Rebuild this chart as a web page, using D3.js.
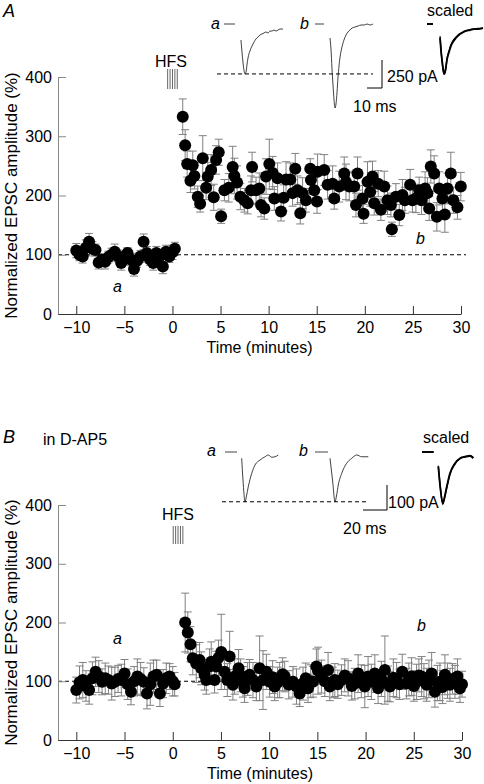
<!DOCTYPE html>
<html><head><meta charset="utf-8">
<script src="https://cdn.jsdelivr.net/npm/d3@7"></script>
<style>body{margin:0;background:#fff}svg{display:block}text{font-family:"Liberation Sans",Arial,sans-serif;fill:#000}</style>
</head><body><svg id="c" width="484" height="784"></svg>
<script>
// ---------- data ----------
const xTicks=[-10,-5,0,5,10,15,20,25,30];
const yTicks=[0,100,200,300,400];

const tA=[-10,-9.67,-9.33,-9,-8.67,-8.33,-8,-7.67,-7.33,-7,-6.67,-6.33,-6,-5.67,-5.33,-5,-4.67,-4.33,-4,-3.67,-3.33,-3,-2.67,-2.33,-2,-1.67,-1.33,-1,-0.67,-0.33,0,0.25,
1.07,1.32,1.53,1.87,2.11,2.28,2.63,2.88,3.15,3.50,3.67,4.02,4.29,4.54,4.81,5.06,5.40,5.85,6.26,6.44,6.72,7.06,7.48,7.82,8.17,8.28,8.69,9.03,9.21,9.55,9.73,10.07,10.42,10.59,10.93,11.29,11.56,11.81,12.25,12.49,12.77,13.01,13.29,13.53,13.88,14.33,14.40,14.74,15.03,15.09,15.78,16.13,16.65,16.82,17.34,17.86,18.04,18.38,18.90,19.08,19.24,19.76,19.87,20.28,20.56,20.80,20.98,21.39,21.67,22.02,22.36,22.71,22.81,23.23,23.58,23.91,24.16,24.71,24.95,25.31,25.65,25.89,26.27,26.51,26.69,26.86,27.21,27.49,27.73,28.07,28.32,28.59,28.94,29.21,29.63,29.98];
const vA=[107,100,97,112,122,110,108,87,92,88,96,100,105,98,86,95,103,92,76,90,97,122,103,92,86,103,98,80,105,97,104,110,
333,285,253,225,251,233,198,186,263,213,232,243,197,260,273,165,209,213,248,233,222,198,192,187,209,248,209,212,184,178,232,253,238,195,229,173,196,227,227,204,245,209,170,204,192,245,226,209,190,240,243,218,220,195,215,237,223,215,215,184,237,195,169,223,206,232,187,220,176,215,192,184,143,198,167,201,192,218,192,195,209,192,212,204,178,249,237,164,212,195,168,212,237,192,180,215];
const eA=[12,10,11,13,14,12,10,11,9,12,10,11,13,10,12,11,9,10,12,11,10,13,11,10,12,11,10,12,11,10,12,11,
30,26,22,20,24,22,18,14,38,20,24,26,22,24,22,12,18,24,35,30,28,22,20,18,24,25,22,26,20,18,30,42,28,20,26,16,22,30,28,22,26,24,18,26,20,17,24,22,20,30,26,24,30,18,26,28,30,24,26,20,28,22,16,34,24,26,20,22,18,26,24,20,12,22,18,26,22,26,20,24,22,24,28,26,20,28,30,24,28,22,30,26,36,22,20,24];

const tB=[-10,-9.67,-9.33,-9,-8.67,-8.33,-8,-7.67,-7.33,-7,-6.67,-6.33,-6,-5.67,-5.33,-5,-4.67,-4.33,-4,-3.67,-3.33,-3,-2.67,-2.33,-2,-1.67,-1.33,-1,-0.67,-0.33,0,0.2,
1.29,1.56,1.84,2.08,2.44,2.78,2.96,3.30,3.48,3.82,3.99,4.34,4.51,4.75,5.03,5.38,5.66,5.90,6.24,6.42,6.83,7.04,7.28,7.45,7.77,7.97,8.32,8.67,9.01,9.36,9.71,10.05,10.36,10.57,10.88,11.09,11.40,11.61,12.03,12.47,12.83,13.17,13.51,13.79,14.03,14.31,14.55,14.90,15.07,15.42,15.77,16.11,16.29,16.60,16.81,17.12,17.50,17.84,18.19,18.57,18.88,19.23,19.56,19.92,20.26,20.60,20.96,21.30,21.64,22.00,22.31,22.52,22.88,23.22,23.51,23.80,24.25,24.49,24.77,25.01,25.29,25.53,25.81,26.05,26.33,26.57,26.85,27.19,27.45,27.71,27.97,28.23,28.49,28.75,29.01,29.27,29.53,29.79,30.00];
const vB=[85,98,102,92,85,105,116,108,99,105,102,96,99,104,102,113,95,82,100,108,104,99,79,95,108,111,79,96,105,108,100,95,
200,183,163,139,130,136,122,111,102,125,133,102,125,140,150,116,102,142,94,108,122,110,99,88,104,111,102,91,122,102,116,99,107,91,98,102,112,108,94,99,91,79,96,105,88,100,99,125,118,108,100,119,91,98,102,95,102,110,105,92,96,113,100,91,108,99,113,88,104,119,96,91,106,102,95,116,96,103,108,92,99,110,108,100,94,104,113,82,97,99,90,111,101,94,104,99,108,88,95];
const eB=[22,28,30,26,24,28,25,27,22,26,24,28,25,23,27,24,26,22,25,30,28,24,26,36,28,25,22,24,26,22,25,20,
50,35,30,28,32,30,28,26,24,30,34,22,26,30,64,30,28,43,26,30,32,28,26,24,28,26,30,24,55,50,30,26,28,24,26,30,28,26,24,26,30,22,28,26,24,28,26,30,40,28,26,30,24,26,28,24,26,28,30,24,26,32,28,36,34,30,32,26,30,58,30,26,32,30,26,30,26,28,32,26,30,28,34,30,28,32,36,26,30,32,28,34,30,28,26,28,30,24,22];

// inset EPSC traces: time (ms) and current (pA)
const baseA_a=[0,7.3], baseA_b=[0,6], baseA_s=[0,4];
const msA_a=[11.3,12,12.7,13.3,14,14.7,15.3,16,17.3,18.7,20,21.3,22.7,24,25.3,26.7,28,29.3,30.7,32,33.3,34.7,36,37.3,39.3];
const paA_a=[-143,-250,-348,-411,-446,-429,-366,-304,-241,-196,-161,-134,-116,-98,-89,-80,-71,-80,-63,-63,-54,-63,-54,-45,-45];
const msA_b=[10,10.7,11.3,12,12.7,13.3,14,14.7,15.3,16,16.7,18,19.3,20.7,22,23.3,24.7,26.7,28.7,30.7,32.7,34.7,36.7,38.7];
const paA_b=[-125,-232,-393,-545,-679,-750,-714,-607,-482,-375,-295,-205,-143,-98,-71,-54,-36,-27,-18,-9,-9,0,-9,0];
const msA_s=[8.7,9.3,10,10.7,11.3,12,12.7,13.3,14.7,16,17.3,19.3,21.3,23.3,26,28.7,31.3,34,37.3];
const paA_s1=[-125,-232,-321,-393,-437,-429,-375,-321,-250,-196,-161,-125,-98,-80,-62,-54,-45,-45,-36];
const paA_s2=[-110,-220,-330,-410,-450,-440,-380,-315,-240,-185,-150,-118,-92,-76,-60,-50,-44,-40,-34];

const baseB_a=[0,10], baseB_b=[0,10.8], baseB_s=[0,9.7];
const msB_a=[13.9,15,16.7,17.9,19.4,22.3,25,29.2,33.3,36.1,38.9,41.7,44.4];
const paB_a=[-25,-112,-199,-176,-139,-85,-52,-32,-19,-12,-21,-19,-12];
const msB_b=[12.5,14.6,16.7,17.9,19.4,22.3,26.4,30.6,34.8,38.9,44.4];
const paB_b=[-25,-112,-199,-176,-132,-85,-45,-25,-12,-19,-19];
const msB_s=[13.6,15.4,17.3,18.3,20.6,23.3,27.5,31.7,35.8,40,42.8];
const paB_s1=[-59,-150,-205,-190,-139,-85,-45,-25,-19,-16,-25];
const paB_s2=[-55,-145,-210,-195,-145,-90,-48,-27,-20,-14,-22];

// ---------- drawing ----------
const svg=d3.select("#c");
const FS=16;

function panel(o){
  const g=svg.append("g");
  const x=d3.scaleLinear().domain([-11.9,30]).range([58,o.xr]);
  const y=d3.scaleLinear().domain([0,400]).range([o.y0,o.y400]);
  g.append("line").attr("x1",x.range()[0]).attr("x2",x(30)+5).attr("y1",y(100)).attr("y2",y(100))
    .attr("stroke","#000").attr("stroke-width",1).attr("stroke-dasharray","4,3");
  const ya=g.append("g").attr("transform",`translate(${x.range()[0]},0)`)
    .call(d3.axisLeft(y).tickValues(yTicks).tickSizeInner(-8).tickSizeOuter(0).tickPadding(6));
  ya.selectAll("path,line").attr("stroke","#888");
  ya.selectAll("text").attr("font-size",FS).attr("font-family","Liberation Sans, Arial, sans-serif").attr("fill","#000");
  const xa=g.append("g").attr("transform",`translate(0,${o.y0})`)
    .call(d3.axisBottom(x).tickValues(xTicks).tickSizeInner(-8).tickSizeOuter(0).tickPadding(8));
  xa.selectAll("path,line").attr("stroke","#333");
  xa.selectAll("text").attr("font-size",FS).attr("font-family","Liberation Sans, Arial, sans-serif").attr("fill","#000");
  g.append("text").attr("x",(x.range()[0]+x.range()[1])/2).attr("y",o.y0+39).attr("text-anchor","middle")
    .attr("font-size",FS).text("Time (minutes)");
  g.append("text").attr("transform",`translate(17,${(o.y0+o.y400)/2}) rotate(-90)`).attr("text-anchor","middle")
    .attr("font-size",17).text("Normalized EPSC amplitude (%)");
  const idx=d3.range(o.t.length);
  const eb=g.append("g").attr("stroke","#808080").attr("stroke-width",1);
  eb.selectAll("line.v").data(idx).join("line").attr("x1",i=>x(o.t[i])).attr("x2",i=>x(o.t[i]))
    .attr("y1",i=>y(o.v[i]-o.e[i])).attr("y2",i=>y(o.v[i]+o.e[i]));
  eb.selectAll("line.t").data(idx).join("line").attr("x1",i=>x(o.t[i])-4).attr("x2",i=>x(o.t[i])+4)
    .attr("y1",i=>y(o.v[i]+o.e[i])).attr("y2",i=>y(o.v[i]+o.e[i]));
  eb.selectAll("line.b").data(idx).join("line").attr("x1",i=>x(o.t[i])-4).attr("x2",i=>x(o.t[i])+4)
    .attr("y1",i=>y(o.v[i]-o.e[i])).attr("y2",i=>y(o.v[i]-o.e[i]));
  g.append("g").selectAll("circle").data(idx).join("circle")
    .attr("cx",i=>x(o.t[i])).attr("cy",i=>y(o.v[i])).attr("r",6).attr("fill","#000");
  g.append("text").attr("x",o.hfsX).attr("y",o.hfsY).attr("text-anchor","middle").attr("font-size",FS).text("HFS");
  g.append("g").selectAll("line").data(o.stim).join("line")
    .attr("x1",d=>x(d)).attr("x2",d=>x(d)).attr("y1",o.stimY[0]).attr("y2",o.stimY[1])
    .attr("stroke","#666").attr("stroke-width",1);
  return g;
}

function trace(g,x0,y0,kx,ky,base,ms,pa,w,color){
  const sx=d3.scaleLinear().domain([0,1]).range([x0,x0+kx]);
  const sy=d3.scaleLinear().domain([0,-1]).range([y0,y0+ky]);
  g.append("line").attr("x1",sx(base[0])).attr("x2",sx(base[1])).attr("y1",sy(0)).attr("y2",sy(0))
    .attr("stroke",color).attr("stroke-width",w);
  const line=d3.line().x(d=>sx(d[0])).y(d=>sy(d[1])).curve(d3.curveMonotoneX);
  g.append("path").attr("d",line(ms.map((m,i)=>[m,pa[i]]))).attr("fill","none")
    .attr("stroke",color).attr("stroke-width",w).attr("stroke-linejoin","round");
  return {sx,sy};
}

function insets(g,o){
  const ta=trace(g,o.a[0],o.a[1],o.kx,o.ky,o.baseA,o.msA,o.paA,0.8,"#111");
  trace(g,o.b[0],o.b[1],o.kx,o.ky,o.baseB,o.msB,o.paB,0.8,"#111");
  trace(g,o.s[0],o.s[1],o.kx,o.ky,o.baseS,o.msS,o.paS1,1.8,"#000");
  trace(g,o.s[0],o.s[1],o.kx,o.ky,o.baseS,o.msS,o.paS2,1.4,"#000");
  const yd=ta.sy(d3.min(o.paA));
  g.append("line").attr("x1",o.dash[0]).attr("x2",o.dash[1]).attr("y1",yd).attr("y2",yd)
    .attr("stroke","#000").attr("stroke-dasharray","4,3");
  const [cx,cy]=o.bar;
  g.append("path").attr("d",`M${cx-o.barMs*o.kx},${cy}H${cx}V${cy-o.barPa*o.ky}`)
    .attr("fill","none").attr("stroke","#000").attr("stroke-width",1);
  g.append("text").attr("x",o.paTxt[0]).attr("y",o.paTxt[1]).attr("font-size",FS).text(o.barPa+" pA");
  g.append("text").attr("x",o.msTxt[0]).attr("y",o.msTxt[1]).attr("font-size",FS).text(o.barMs+" ms");
  g.append("text").attr("x",o.la[0]).attr("y",o.la[1]).attr("font-size",FS).attr("font-style","italic").text("a");
  g.append("text").attr("x",o.lb[0]).attr("y",o.lb[1]).attr("font-size",FS).attr("font-style","italic").text("b");
  g.append("text").attr("x",o.ls[0]).attr("y",o.ls[1]).attr("font-size",FS).text("scaled");
}

// Panel A
const gA=panel({t:tA,v:vA,e:eA,xr:461,y0:314,y400:77,hfsX:171,hfsY:67,stim:[-0.5,-0.25,0,0.25,0.5],stimY:[69,89]});
svg.append("text").attr("x",3).attr("y",17).attr("font-size",18).attr("font-style","italic").text("A");
gA.append("text").attr("x",113).attr("y",292).attr("font-size",FS).attr("font-style","italic").text("a");
gA.append("text").attr("x",416).attr("y",244).attr("font-size",FS).attr("font-style","italic").text("b");
insets(gA,{kx:1.5,ky:0.112,a:[224,24],b:[315,24],s:[427,24],
  baseA:baseA_a,msA:msA_a,paA:paA_a,baseB:baseA_b,msB:msA_b,paB:paA_b,baseS:baseA_s,msS:msA_s,paS1:paA_s1,paS2:paA_s2,
  dash:[217,373],bar:[382,88],barMs:10,barPa:250,paTxt:[387,82],msTxt:[353,112],la:[211,29],lb:[300,29],ls:[427,16]});

// Panel B
const gB=panel({t:tB,v:vB,e:eB,xr:462,y0:740,y400:505,hfsX:178,hfsY:520,stim:[0.05,0.3,0.55,0.8,1.05],stimY:[526,544]});
svg.append("text").attr("x",3).attr("y",443).attr("font-size",18).attr("font-style","italic").text("B");
svg.append("text").attr("x",43).attr("y",445).attr("font-size",FS).text("in D-AP5");
gB.append("text").attr("x",113).attr("y",644).attr("font-size",FS).attr("font-style","italic").text("a");
gB.append("text").attr("x",417).attr("y",631).attr("font-size",FS).attr("font-style","italic").text("b");
insets(gB,{kx:1.2,ky:0.25,a:[225,452],b:[315,452],s:[422,452],
  baseA:baseB_a,msA:msB_a,paA:paB_a,baseB:baseB_b,msB:msB_b,paB:paB_b,baseS:baseB_s,msS:msB_s,paS1:paB_s1,paS2:paB_s2,
  dash:[222,368],bar:[387,510],barMs:20,barPa:100,paTxt:[388,508],msTxt:[343,534],la:[207,456],lb:[299,456],ls:[423,443]});
</script></body></html>
